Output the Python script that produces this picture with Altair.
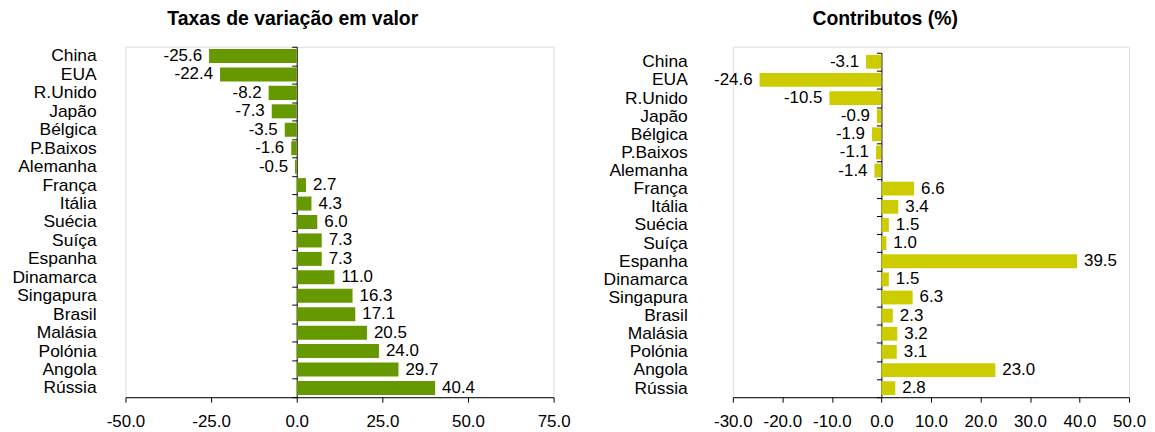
import altair as alt
import pandas as pd

countries = ["China", "EUA", "R.Unido", "Japão", "Bélgica", "P.Baixos", "Alemanha",
             "França", "Itália", "Suécia", "Suíça", "Espanha", "Dinamarca", "Singapura",
             "Brasil", "Malásia", "Polónia", "Angola", "Rússia"]
taxas = [-25.6, -22.4, -8.2, -7.3, -3.5, -1.6, -0.5, 2.7, 4.3, 6.0, 7.3, 7.3, 11.0,
         16.3, 17.1, 20.5, 24.0, 29.7, 40.4]
contributos = [-3.1, -24.6, -10.5, -0.9, -1.9, -1.1, -1.4, 6.6, 3.4, 1.5, 1.0, 39.5,
               1.5, 6.3, 2.3, 3.2, 3.1, 23.0, 2.8]
left_ticks = [-50, -25, 0, 25, 50, 75]
right_ticks = [-30, -20, -10, 0, 10, 20, 30, 40, 50]

FONT = "Liberation Sans"
CAT_SIZE = 17.5
NUM_SIZE = 17


def panel(values, title, color, ticks, width, height, top_gap, label_gap, title_dx, title_offset):
    xmin, xmax = ticks[0], ticks[-1]
    df = pd.DataFrame({"pais": countries, "v": values,
                       "lab": [f"{v:.1f}" for v in values]})
    zero_pos = width * (0 - xmin) / (xmax - xmin)
    xscale = alt.Scale(domain=[xmin, xmax], nice=False, zero=False)
    yscale = alt.Scale(domain=countries, paddingInner=0, paddingOuter=0,
                       range=[top_gap, height])
    x = alt.X("v:Q", scale=xscale,
              axis=alt.Axis(values=ticks, title=None, grid=False,
                            labelExpr="(datum.value < 0 ? '-' : '') + format(abs(datum.value), '.1f')",
                            domainColor="black", tickColor="black", tickSize=5,
                            labelFontSize=NUM_SIZE, labelColor="black", labelFont=FONT,
                            labelPadding=11, labelFlush=False))
    y = alt.Y("pais:N", scale=yscale, sort=countries,
              axis=alt.Axis(title=None, offset=-zero_pos, tickBand="extent", grid=False,
                            tickSize=5, domainColor="black", tickColor="black",
                            labelFontSize=CAT_SIZE, labelColor="black", labelFont=FONT,
                            labelPadding=label_gap - 5))
    bars = alt.Chart(df).mark_bar(color=color, height=alt.RelativeBandSize(0.76)).encode(x=x, y=y)
    neg = alt.Chart(df).transform_filter("datum.v < 0").mark_text(
        align="right", dx=-7, fontSize=NUM_SIZE, font=FONT, color="black"
    ).encode(x=alt.X("v:Q"), y=alt.Y("pais:N", sort=countries), text="lab:N")
    pos = alt.Chart(df).transform_filter("datum.v >= 0").mark_text(
        align="left", dx=7, fontSize=NUM_SIZE, font=FONT, color="black"
    ).encode(x=alt.X("v:Q"), y=alt.Y("pais:N", sort=countries), text="lab:N")
    return alt.layer(bars, neg, pos).properties(
        width=width, height=height,
        title=alt.TitleParams(title, fontSize=19.5, fontWeight="bold", font=FONT,
                              color="black", anchor="middle", frame="group",
                              dx=title_dx, offset=title_offset))


left = panel(taxas, "Taxas de variação em valor", "#669900", left_ticks,
             430, 352, 0, 201.5, -47, 8)
right = panel(contributos, "Contributos (%)", "#CCCC00", right_ticks,
              398, 352, 6, 195, -46, 8)

chart = alt.hconcat(left, right, spacing=31).properties(
    padding={"left": 3, "top": 0, "right": 0, "bottom": 0}
).configure_view(strokeWidth=0, stroke="transparent").configure_axis(grid=False).configure(
    background="white")

chart.save("out.html", embed_options={"renderer": "svg", "actions": False})
